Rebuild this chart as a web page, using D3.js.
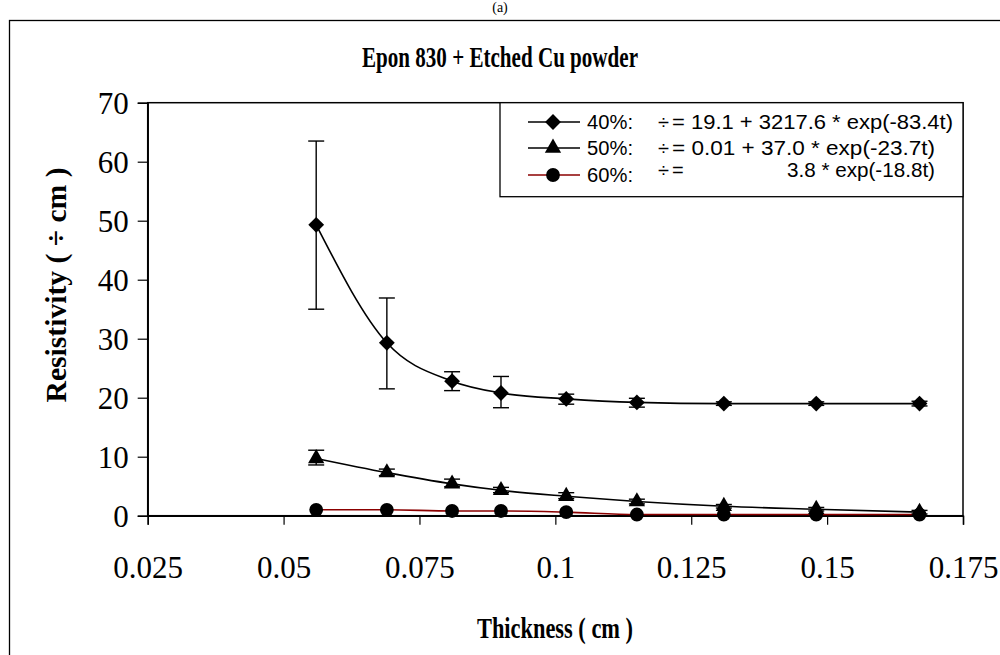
<!DOCTYPE html>
<html><head><meta charset="utf-8">
<script src="https://cdn.jsdelivr.net/npm/d3@7"></script>
<style>body{margin:0;background:#fff}svg{display:block}</style>
</head><body>
<svg id="c" width="1000" height="655"></svg>
<script>
const thickness = [0.056, 0.069, 0.081, 0.090, 0.102, 0.115, 0.131, 0.148, 0.167];
const res40 = [49.3, 29.3, 22.8, 20.8, 19.8, 19.2, 19.0, 19.0, 19.0];
const err40Low = [35.0, 21.5, 21.2, 18.3, 18.9, 18.4, 18.7, 18.7, 18.6];
const err40High = [63.5, 36.9, 24.4, 23.6, 20.6, 19.9, 19.3, 19.3, 19.4];
const res50 = [9.7, 7.3, 5.4, 4.3, 3.3, 2.4, 1.6, 1.1, 0.6];
const err50Low = [8.6, 6.8, 4.9, 3.9, 2.9, 2.0, 1.3, 0.8, 0.3];
const err50High = [11.1, 7.9, 6.2, 4.8, 3.9, 2.8, 1.9, 1.4, 0.9];
const res60 = [1.0, 1.0, 0.8, 0.8, 0.6, 0.2, 0.2, 0.2, 0.2];
const xTicks = [0.025, 0.05, 0.075, 0.1, 0.125, 0.15, 0.175];
const xTickLabels = ["0.025", "0.05", "0.075", "0.1", "0.125", "0.15", "0.175"];
const yTicks = [0, 10, 20, 30, 40, 50, 60, 70];
const legendLabels = ["40%:", "50%:", "60%:"];
const legendEq = ["= 19.1 + 3217.6 * exp(-83.4t)", "= 0.01 + 37.0 * exp(-23.7t)", "="];
const legendEqTail = ["", "", "3.8 * exp(-18.8t)"];

const svg = d3.select("#c");
const L = 147.7, R = 963, T = 102.7, B = 515.7;
const x = d3.scaleLinear().domain([0.025, 0.175]).range([L, R]);
const y = d3.scaleLinear().domain([0, 70]).range([B, T]);

// outer border
svg.append("rect").attr("x", 9.5).attr("y", 20.5).attr("width", 1000).attr("height", 700)
  .attr("fill", "none").attr("stroke", "#000").attr("stroke-width", 1.3);
svg.append("text").attr("x", 500).attr("y", 12).attr("text-anchor", "middle")
  .attr("font-family", "Liberation Serif").attr("font-size", 14).text("(a)");

// title
svg.append("text").attr("x", 500).attr("y", 67).attr("text-anchor", "middle")
  .attr("font-family", "Liberation Serif").attr("font-weight", "bold").attr("font-size", 29)
  .attr("textLength", 276).attr("lengthAdjust", "spacingAndGlyphs")
  .text("Epon 830 + Etched Cu powder");

// plot frame
svg.append("rect").attr("x", L).attr("y", T).attr("width", R - L).attr("height", B - T)
  .attr("fill", "none").attr("stroke", "#000").attr("stroke-width", 1.5);

// axes
const xAxis = d3.axisBottom(x).tickValues(xTicks).tickFormat((d, i) => xTickLabels[i]).tickSize(9).tickPadding(31);
const gx = svg.append("g").attr("transform", `translate(0,${B})`).call(xAxis);
const yAxis = d3.axisLeft(y).tickValues(yTicks).tickSize(10).tickPadding(9);
const gy = svg.append("g").attr("transform", `translate(${L},0)`).call(yAxis);
[gx, gy].forEach(g => {
  g.select(".domain").attr("stroke", "#000").attr("stroke-width", 1.5);
  g.selectAll(".tick line").attr("stroke", "#000").attr("stroke-width", 1.2);
  g.selectAll("text").attr("font-family", "Liberation Serif").attr("font-size", 31).attr("fill", "#000");
});
gy.selectAll("text").attr("dy", "0.34em");

// axis titles
svg.append("text").attr("x", 555).attr("y", 638).attr("text-anchor", "middle")
  .attr("font-family", "Liberation Serif").attr("font-weight", "bold").attr("font-size", 30)
  .attr("textLength", 156).attr("lengthAdjust", "spacingAndGlyphs")
  .text("Thickness ( cm )");
svg.append("text").attr("transform", "translate(66,285) rotate(-90)").attr("text-anchor", "middle")
  .attr("font-family", "Liberation Serif").attr("font-weight", "bold").attr("font-size", 30)
  .attr("textLength", 235).attr("lengthAdjust", "spacingAndGlyphs")
  .text("Resistivity ( \u00F7  cm )");

// series
const series = [
  {v: res40, lo: err40Low, hi: err40High, color: "#000", shape: d3.symbolSquare, size: 125, rot: 45},
  {v: res50, lo: err50Low, hi: err50High, color: "#000", shape: d3.symbolTriangle, size: 115, rot: 0},
  {v: res60, lo: null, hi: null, color: "#8b0000", shape: d3.symbolCircle, size: 150, rot: 0}
];
const line = d3.line().x((d, i) => x(thickness[i])).y(d => y(d)).curve(d3.curveMonotoneX);
series.forEach(s => {
  svg.append("path").attr("d", line(s.v)).attr("fill", "none").attr("stroke", s.color).attr("stroke-width", 1.6);
});
series.forEach(s => {
  if (s.lo) {
    const g = svg.append("g").attr("stroke", "#000").attr("stroke-width", 1.4);
    thickness.forEach((t, i) => {
      const cx = x(t);
      g.append("line").attr("x1", cx).attr("x2", cx).attr("y1", y(s.lo[i])).attr("y2", y(s.hi[i]));
      g.append("line").attr("x1", cx - 8).attr("x2", cx + 8).attr("y1", y(s.lo[i])).attr("y2", y(s.lo[i]));
      g.append("line").attr("x1", cx - 8).attr("x2", cx + 8).attr("y1", y(s.hi[i])).attr("y2", y(s.hi[i]));
    });
  }
  svg.append("g").selectAll("path").data(s.v).join("path")
    .attr("transform", (d, i) => `translate(${x(thickness[i])},${y(d)}) rotate(${s.rot})`)
    .attr("d", d3.symbol().type(s.shape).size(s.size)).attr("fill", "#000");
});

// legend
const lg = svg.append("g");
lg.append("rect").attr("x", 500).attr("y", T).attr("width", R - 500).attr("height", 94)
  .attr("fill", "#fff").attr("stroke", "#000").attr("stroke-width", 1.3);
const rowY = [122, 148, 175];
legendLabels.forEach((lab, i) => {
  const s = series[i];
  lg.append("line").attr("x1", 528).attr("x2", 580).attr("y1", rowY[i]).attr("y2", rowY[i])
    .attr("stroke", s.color).attr("stroke-width", 1.6);
  lg.append("path").attr("transform", `translate(553,${rowY[i]}) rotate(${s.rot})`)
    .attr("d", d3.symbol().type(s.shape).size(s.size)).attr("fill", "#000");
  lg.append("text").attr("x", 587).attr("y", rowY[i] + 7).attr("font-family", "Liberation Sans")
    .attr("font-size", 20).attr("textLength", 46).attr("lengthAdjust", "spacingAndGlyphs").text(lab);
  const ey = i === 2 ? rowY[i] + 2 : rowY[i] + 7;
  lg.append("text").attr("x", 658).attr("y", ey).attr("font-family", "Liberation Sans")
    .attr("font-size", 20).text("\u00F7");
  const eq = lg.append("text").attr("x", 672).attr("y", ey).attr("font-family", "Liberation Sans")
    .attr("font-size", 20).text(legendEq[i]);
  if (i === 0) eq.attr("textLength", 281).attr("lengthAdjust", "spacingAndGlyphs");
  if (i === 1) eq.attr("textLength", 263).attr("lengthAdjust", "spacingAndGlyphs");
  if (legendEqTail[i]) {
    lg.append("text").attr("x", 935).attr("y", ey).attr("text-anchor", "end").attr("font-family", "Liberation Sans")
      .attr("font-size", 20).attr("textLength", 148).attr("lengthAdjust", "spacingAndGlyphs").text(legendEqTail[i]);
  }
});
</script>
</body></html>
